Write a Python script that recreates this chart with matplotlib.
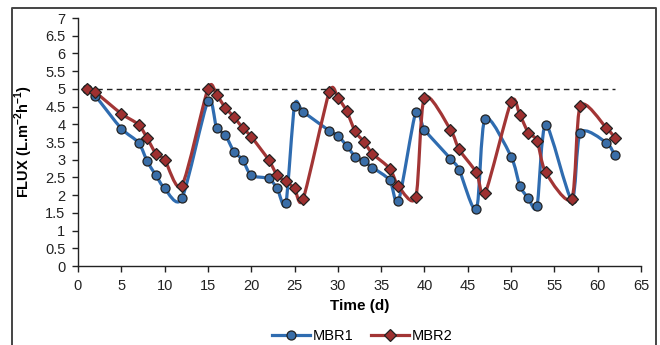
import matplotlib
matplotlib.use("Agg")
import matplotlib.pyplot as plt
from matplotlib.path import Path
from matplotlib.patches import PathPatch
from matplotlib.lines import Line2D
from matplotlib.ticker import MultipleLocator, FuncFormatter

# ---- data ----
days = [1, 2, 5, 7, 8, 9, 10, 12, 15, 16, 17, 18, 19, 20, 22, 23, 24, 25, 26,
        29, 30, 31, 32, 33, 34, 36, 37, 39, 40, 43, 44, 46, 47, 50, 51, 52, 53,
        54, 57, 58, 61, 62]
mbr1 = [5.0, 4.8, 3.88, 3.48, 2.95, 2.56, 2.19, 1.91, 4.66, 3.9, 3.7, 3.23, 3.0,
        2.56, 2.47, 2.19, 1.77, 4.52, 4.35, 3.82, 3.68, 3.4, 3.09, 2.95, 2.78,
        2.42, 1.83, 4.35, 3.85, 3.03, 2.72, 1.6, 4.16, 3.09, 2.27, 1.91, 1.69,
        3.99, 1.88, 3.76, 3.48, 3.12]
mbr2 = [5.0, 4.9, 4.3, 3.99, 3.6, 3.17, 3.0, 2.27, 5.0, 4.83, 4.47, 4.21, 3.9,
        3.65, 3.0, 2.56, 2.39, 2.19, 1.9, 4.9, 4.75, 4.38, 3.8, 3.51, 3.17,
        2.75, 2.25, 1.94, 4.75, 3.85, 3.29, 2.64, 2.05, 4.63, 4.27, 3.76, 3.54,
        2.64, 1.9, 4.52, 3.9, 3.62]
target_flux = 5.0
series_names = ["MBR1", "MBR2"]

BLUE = "#2f6cb0"
BLUE_FACE = "#3a6ea8"
RED = "#a23535"
RED_FACE = "#9e3030"
EDGE = "#222222"

plt.rcParams["font.family"] = ["Liberation Sans", "DejaVu Sans"]
plt.rcParams["mathtext.fontset"] = "custom"
plt.rcParams["mathtext.rm"] = "Liberation Sans"
plt.rcParams["mathtext.bf"] = "Liberation Sans:bold"

fig = plt.figure(figsize=(6.6, 3.45), dpi=100)
ax = fig.add_axes([78 / 660, 1 - 266 / 345, (641 - 78) / 660, (266 - 18) / 345])


def smooth_path(xs, ys, t=0.13):
    verts = [(xs[0], ys[0])]
    codes = [Path.MOVETO]
    n = len(xs)
    for i in range(n - 1):
        x0, y0 = (xs[i - 1], ys[i - 1]) if i > 0 else (xs[i], ys[i])
        x1, y1 = xs[i], ys[i]
        x2, y2 = xs[i + 1], ys[i + 1]
        x3, y3 = (xs[i + 2], ys[i + 2]) if i + 2 < n else (xs[i + 1], ys[i + 1])
        c1 = (x1 + (x2 - x0) * t, y1 + (y2 - y0) * t)
        c2 = (x2 - (x3 - x1) * t, y2 - (y3 - y1) * t)
        verts += [c1, c2, (x2, y2)]
        codes += [Path.CURVE4] * 3
    return Path(verts, codes)


ax.plot([days[0], days[-1]], [target_flux, target_flux], ls=(0, (4, 3)),
        color="#222222", lw=1.0, zorder=1)

for ys, col, face, mk, ms in [(mbr1, BLUE, BLUE_FACE, "o", 6.5),
                              (mbr2, RED, RED_FACE, "D", 6.5)]:
    patch = PathPatch(smooth_path(days, ys), fill=False, edgecolor=col, lw=2.3,
                      capstyle="round", joinstyle="round", zorder=2)
    ax.add_patch(patch)
    ax.plot(days, ys, ls="none", marker=mk, ms=ms, mfc=face, mec=EDGE,
            mew=0.9, zorder=3)

ax.set_xlim(0, 65)
ax.set_ylim(0, 7)
ax.xaxis.set_major_locator(MultipleLocator(5))
ax.yaxis.set_major_locator(MultipleLocator(0.5))
ax.yaxis.set_major_formatter(FuncFormatter(lambda v, p: f"{v:g}"))
for s in ["top", "right"]:
    ax.spines[s].set_visible(False)
for s in ["left", "bottom"]:
    ax.spines[s].set_linewidth(1.0)
    ax.spines[s].set_color("#222222")
ax.tick_params(direction="out", length=4, width=1.0, color="#222222",
               labelsize=10.5, labelcolor="#222222", pad=5)
ax.set_xlabel("Time (d)", fontsize=11, fontweight="bold", labelpad=5)
ax.set_ylabel(r"FLUX (L.m$^{\mathbf{-2}}$h$^{\mathbf{-1}}$)", fontsize=10.5,
              fontweight="bold", labelpad=7)

handles = [Line2D([], [], color=BLUE, lw=2.3, marker="o", ms=6.5, mfc=BLUE_FACE,
                  mec=EDGE, mew=0.9),
           Line2D([], [], color=RED, lw=2.3, marker="D", ms=6.5, mfc=RED_FACE,
                  mec=EDGE, mew=0.9)]
fig.legend(handles, series_names, loc="center", bbox_to_anchor=(362 / 660, 1 - 336 / 345),
           ncol=2, frameon=False, fontsize=10.5, handlelength=2.6,
           columnspacing=1.2, handletextpad=0.2)

# outer frame (open at bottom)
fx0, fx1, fy1 = 11.5 / 660, 656 / 660, 1 - 7.5 / 345
fig.add_artist(Line2D([fx0, fx0, fx1, fx1], [0, fy1, fy1, 0],
                      transform=fig.transFigure, color="#444444", lw=1.4))

fig.savefig("out.png", dpi=100)
